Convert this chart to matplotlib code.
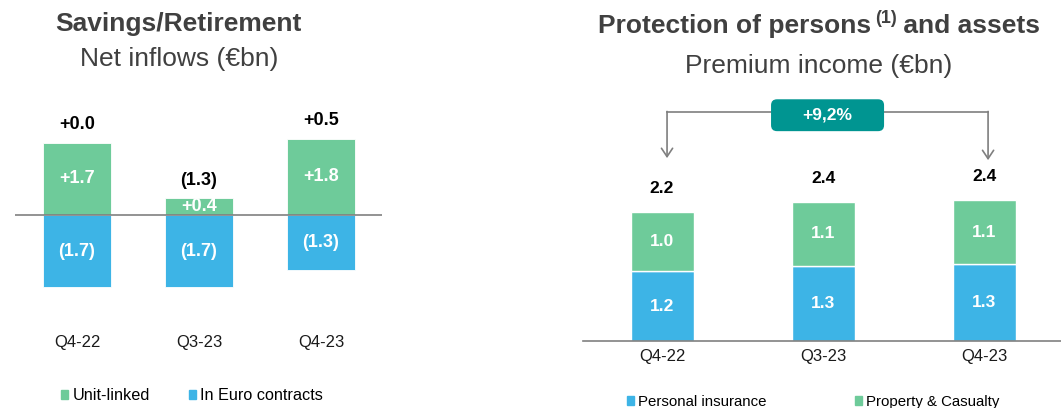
import numpy as np
import matplotlib.pyplot as plt
from matplotlib.patches import Patch, FancyBboxPatch

plt.rcParams['font.family'] = ['Liberation Sans', 'DejaVu Sans']

W, H = 1061, 408
GREEN = '#6ecb9a'
BLUE = '#3db4e6'
TEAL = '#009591'
GREY = '#808080'
DARK = '#404040'

quarters = ['Q4-22', 'Q3-23', 'Q4-23']

# savings / retirement net inflows (EUR bn)
unit_linked = [1.7, 0.4, 1.8]
euro_contracts = [-1.7, -1.7, -1.3]

# protection premium income (EUR bn)
personal_ins = [1.20, 1.30, 1.32]
prop_casualty = [1.03, 1.10, 1.11]
growth_label = '+9,2%'


def fmt_signed(v):
    v = round(v, 1)
    return f'({abs(v):.1f})' if v < 0 else f'+{v:.1f}'


def px_axes(x0, y0, x1, y1):
    # axes placed with pixel box of the 1061x408 canvas
    return fig.add_axes([x0 / W, 1 - y1 / H, (x1 - x0) / W, (y1 - y0) / H])


fig = plt.figure(figsize=(W / 100, H / 100), dpi=100)

# ---- left panel ----
axL = px_axes(15, 100, 382, 300)
axL.set_xlim(-0.508, 2.5)
axL.set_ylim(-2.0, 2.706)
axL.axis('off')
x = np.arange(len(quarters))
axL.bar(x, unit_linked, width=0.557, color=GREEN, edgecolor='white', linewidth=0.6)
axL.bar(x, euro_contracts, width=0.557, color=BLUE, edgecolor='white', linewidth=0.6)
axL.axhline(0, color=GREY, lw=1.2)

for i in x:
    axL.text(i, unit_linked[i] / 2, fmt_signed(unit_linked[i]), ha='center', va='center',
             color='white', fontsize=13, fontweight='bold')
    axL.text(i, euro_contracts[i] / 2, fmt_signed(euro_contracts[i]), ha='center', va='center',
             color='white', fontsize=13, fontweight='bold')
    net = unit_linked[i] + euro_contracts[i]
    axL.text(i, max(unit_linked[i], 0) + 0.42, fmt_signed(net), ha='center', va='center',
             color='black', fontsize=13, fontweight='bold')
    axL.text(i, -3.01, quarters[i], ha='center', va='center', fontsize=12, color='#1a1a1a')

# ---- right panel ----
axR = px_axes(583, 90, 1061, 341)
axR.set_xlim(-0.491, 2.478)
axR.set_ylim(0, 4.33)
axR.axis('off')
axR.bar(x, personal_ins, width=0.391, color=BLUE, edgecolor='white', linewidth=1)
axR.bar(x, prop_casualty, width=0.391, bottom=personal_ins, color=GREEN,
        edgecolor='white', linewidth=1)
axR.axhline(0, color=GREY, lw=1.2, clip_on=False)

for i in x:
    tot = personal_ins[i] + prop_casualty[i]
    axR.text(i, personal_ins[i] / 2, f'{personal_ins[i]:.1f}', ha='center', va='center',
             color='white', fontsize=12.5, fontweight='bold')
    axR.text(i, personal_ins[i] + prop_casualty[i] / 2, f'{prop_casualty[i]:.1f}',
             ha='center', va='center', color='white', fontsize=12.5, fontweight='bold')
    axR.text(i, tot + 0.4, f'{tot:.1f}', ha='center', va='center', color='black',
             fontsize=12.5, fontweight='bold')
    axR.text(i, -0.276, quarters[i], ha='center', va='center', fontsize=12, color='#1a1a1a')

# growth bracket
xl, xr, yl = 0.031, 2.025, 3.95
bx0, bx1, by0, by1 = 0.677, 1.379, 3.62, 4.17
axR.plot([xl, bx0], [yl, yl], color='#7f7f7f', lw=1.2, clip_on=False)
axR.plot([bx1, xr], [yl, yl], color='#7f7f7f', lw=1.2, clip_on=False)
for xa, ya in [(xl, 3.155), (xr, 3.12)]:
    axR.annotate('', xy=(xa, ya), xytext=(xa, yl + 0.01),
                 arrowprops=dict(arrowstyle='->,head_length=0.3,head_width=0.2',
                                 mutation_scale=20, color='#7f7f7f', lw=1.2,
                                 shrinkA=0, shrinkB=0))
box = FancyBboxPatch((bx0, by0), bx1 - bx0, by1 - by0,
                     boxstyle='round,pad=0,rounding_size=0.037',
                     mutation_aspect=161 / 58, fc=TEAL, ec='none', zorder=3, clip_on=False)
axR.add_patch(box)
axR.text((bx0 + bx1) / 2, (by0 + by1) / 2, growth_label, ha='center', va='center',
         color='white', fontsize=12.5, fontweight='bold', zorder=4)

# ---- titles ----
fig.text(178.5 / W, 1 - 31 / H, 'Savings/Retirement', ha='center', va='baseline',
         fontsize=19, fontweight='bold', color=DARK)
fig.text(179 / W, 1 - 66 / H, 'Net inflows (€bn)', ha='center', va='baseline',
         fontsize=19, color=DARK)
fig.text(819 / W, 1 - 73 / H, 'Premium income (€bn)', ha='center', va='baseline',
         fontsize=19, color=DARK)

yb = 1 - 33 / H
t1 = fig.text(0, yb, 'Protection of persons', ha='left', va='baseline',
              fontsize=19, fontweight='bold', color=DARK)
t2 = fig.text(0, yb + 10 / H, '(1)', ha='left', va='baseline',
              fontsize=13, fontweight='bold', color=DARK)
t3 = fig.text(0, yb, ' and assets', ha='left', va='baseline',
              fontsize=19, fontweight='bold', color=DARK)
r = fig.canvas.get_renderer()
w1 = t1.get_window_extent(r).width
w2 = t2.get_window_extent(r).width
w3 = t3.get_window_extent(r).width
gap = 4
start = 819 - (w1 + gap + w2 + w3) / 2
t1.set_x(start / W)
t2.set_x((start + w1 + gap) / W)
t3.set_x((start + w1 + gap + w2) / W)

# ---- legends ----
fig.legend(handles=[Patch(color=GREEN, label='Unit-linked'),
                    Patch(color=BLUE, label='In Euro contracts')],
           loc='center', bbox_to_anchor=(192 / W, 1 - 396 / H), ncol=2, frameon=False,
           fontsize=11.7, handlelength=0.45, handleheight=0.45, handletextpad=0.25,
           columnspacing=2.4)
fig.legend(handles=[Patch(color=BLUE, label='Personal insurance'),
                    Patch(color=GREEN, label='Property & Casualty')],
           loc='center', bbox_to_anchor=(813 / W, 1 - 402 / H), ncol=2, frameon=False,
           fontsize=10.8, handlelength=0.48, handleheight=0.48, handletextpad=0.25,
           columnspacing=5.9)

fig.savefig('out.png', dpi=100)
